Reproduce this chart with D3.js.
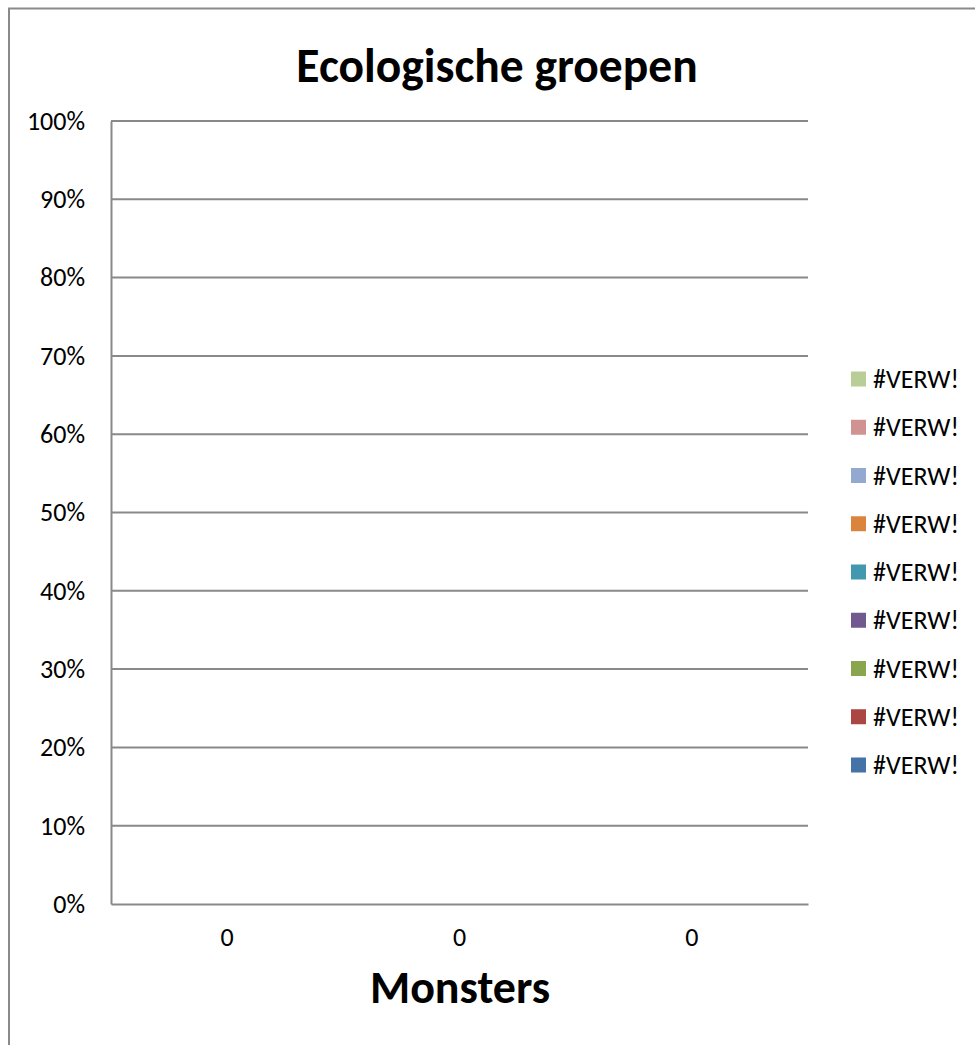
<!DOCTYPE html>
<html>
<head>
<meta charset="utf-8">
<script src="https://cdn.jsdelivr.net/npm/d3@7"></script>
<style>
  html, body { margin: 0; padding: 0; background: #fff; }
  svg { display: block; }
  text { font-family: Carlito, Lato, "Open Sans", sans-serif; fill: #000; }
</style>
</head>
<body>
<svg id="chart" width="975" height="1045"></svg>
<script>
// ---- data ----
const categories = ["0", "0", "0"];
const seriesNames = ["#VERW!", "#VERW!", "#VERW!", "#VERW!", "#VERW!", "#VERW!", "#VERW!", "#VERW!", "#VERW!"];
const seriesValues = [
  [0, 0, 0],
  [0, 0, 0],
  [0, 0, 0],
  [0, 0, 0],
  [0, 0, 0],
  [0, 0, 0],
  [0, 0, 0],
  [0, 0, 0],
  [0, 0, 0]
];
const seriesColors = ["#4572A7", "#AA4643", "#89A54E", "#71588F", "#4198AF", "#DB843D", "#93A9CF", "#D19392", "#B9CD96"];
const yTicks = [0, 0.1, 0.2, 0.3, 0.4, 0.5, 0.6, 0.7, 0.8, 0.9, 1.0];
const titleText = "Ecologische groepen";
const xAxisTitle = "Monsters";

// ---- layout ----
const svg = d3.select("#chart");
const plot = { left: 111, right: 808, top: 121, bottom: 904 };
const gridColor = "#898989";

// frame
svg.append("rect")
  .attr("x", 9).attr("y", 8.5)
  .attr("width", 1100).attr("height", 1100)
  .attr("fill", "#fff").attr("stroke", "#8a8a8a").attr("stroke-width", 2);

const x = d3.scaleBand().domain(d3.range(categories.length))
  .range([plot.left, plot.right]).paddingInner(0.6).paddingOuter(0.3);
const y = d3.scaleLinear().domain([0, 1]).range([plot.bottom, plot.top]);

// gridlines
svg.append("g").selectAll("line").data(yTicks.filter(d => d > 0)).join("line")
  .attr("x1", plot.left).attr("x2", plot.right)
  .attr("y1", d => y(d)).attr("y2", d => y(d))
  .attr("stroke", gridColor).attr("stroke-width", 2);

// stacked 100% bars
const table = categories.map((c, i) => {
  const row = { idx: i };
  seriesValues.forEach((vals, s) => row["s" + s] = vals[i]);
  return row;
});
const keys = seriesValues.map((_, s) => "s" + s);
const stacked = d3.stack().keys(keys).offset(d3.stackOffsetExpand)(table);
svg.append("g").selectAll("g").data(stacked).join("g")
  .attr("fill", (d, i) => seriesColors[i])
  .selectAll("rect").data(d => d).join("rect")
  .attr("x", d => x(d.data.idx))
  .attr("width", x.bandwidth())
  .attr("y", d => y(d[1] || 0))
  .attr("height", d => Math.max(0, y(d[0] || 0) - y(d[1] || 0)));

// y axis
const yAxis = d3.axisLeft(y).tickValues(yTicks).tickFormat(d3.format(".0%")).tickSize(0).tickPadding(26);
const gy = svg.append("g").attr("transform", `translate(${plot.left},0)`).call(yAxis);
gy.select(".domain").attr("stroke", gridColor).attr("stroke-width", 2);
gy.selectAll("text").attr("font-size", 26).attr("font-family", "Carlito, Lato, sans-serif").attr("fill", "#000");

// x axis
const xLabelScale = d3.scaleBand().domain(d3.range(categories.length)).range([plot.left, plot.right]);
const xAxis = d3.axisBottom(xLabelScale).tickFormat(i => categories[i]).tickSize(0).tickPadding(24);
const gx = svg.append("g").attr("transform", `translate(0,${plot.bottom})`).call(xAxis);
gx.select(".domain").attr("stroke", gridColor).attr("stroke-width", 2);
gx.selectAll("text").attr("font-size", 26).attr("font-family", "Carlito, Lato, sans-serif").attr("fill", "#000");

// title
svg.append("text").attr("x", 497).attr("y", 82).attr("text-anchor", "middle")
  .attr("font-size", 47.5).attr("font-weight", "bold").text(titleText);
svg.append("text").attr("x", 460).attr("y", 1003).attr("text-anchor", "middle")
  .attr("font-size", 46).attr("font-weight", "bold").text(xAxisTitle);

// legend (reversed order: last series at top)
const legendOrder = d3.range(seriesNames.length).reverse();
const legY = d3.scalePoint().domain(legendOrder).range([379, 765]);
const lg = svg.append("g").selectAll("g").data(legendOrder).join("g")
  .attr("transform", d => `translate(851,${legY(d)})`);
lg.append("rect").attr("x", 0).attr("y", -7.5).attr("width", 15).attr("height", 15)
  .attr("fill", d => seriesColors[d]);
lg.append("text").attr("x", 22).attr("y", 0).attr("dy", "0.35em")
  .attr("font-size", 26).text(d => seriesNames[d]);
</script>
</body>
</html>
